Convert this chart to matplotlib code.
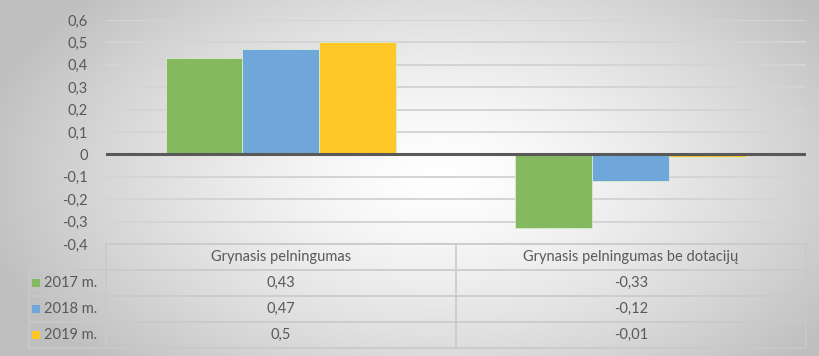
import numpy as np
import matplotlib
matplotlib.use("Agg")
import matplotlib.pyplot as plt
from matplotlib.patches import Rectangle

categories = ["Grynasis pelningumas", "Grynasis pelningumas be dotacijų"]
series_names = ["2017 m.", "2018 m.", "2019 m."]
v2017 = [0.43, -0.33]
v2018 = [0.47, -0.12]
v2019 = [0.5, -0.01]
series_values = [v2017, v2018, v2019]
series_labels = [["0,43", "-0,33"], ["0,47", "-0,12"], ["0,5", "-0,01"]]
yticks = [0.6, 0.5, 0.4, 0.3, 0.2, 0.1, 0, -0.1, -0.2, -0.3, -0.4]
colors = ["#84b95f", "#6fa7da", "#ffc727"]
txt = "#595959"

W, H = 820, 356
plt.rcParams['font.family'] = ['Lato', 'DejaVu Sans']
fig = plt.figure(figsize=(W / 100, H / 100), dpi=100)

# background radial gradient
bg = fig.add_axes([0, 0, 1, 1])
yy, xx = np.mgrid[0:H, 0:W]
r = np.sqrt(((xx - 440) / 470.0) ** 2 + ((yy - 175) / 270.0) ** 2)
r = np.clip(r, 0, 1) ** 1.4
g = 1.0 - (1.0 - 0.75) * r
bg.imshow(np.dstack([g, g, g]), extent=[0, W, H, 0], aspect='auto', interpolation='bilinear')
bg.set_xlim(0, W); bg.set_ylim(H, 0)
bg.axis('off')

def fx(px): return px / W
def fy(py): return 1 - py / H

# main axes
x0, x1 = 106, 806
ytop, ybot = 20, 244
ax = fig.add_axes([fx(x0), fy(ybot), (x1 - x0) / W, (ybot - ytop) / H])
ax.patch.set_alpha(0)
ax.set_xlim(0, 2)
ax.set_ylim(-0.4, 0.6)
ax.set_yticks(yticks)
ax.set_yticklabels([("%.1f" % t).replace(".", ",") if t != 0 else "0" for t in yticks],
                   color=txt, fontsize=10.5)
ax.tick_params(axis='y', length=0, pad=13)
ax.set_xticks([])
for s in ax.spines.values():
    s.set_visible(False)
for t in yticks:
    if t != 0:
        ax.axhline(t, color="#d4d4d4", lw=1.4, zorder=0)
bw = 0.22
for i, (vals, c) in enumerate(zip(series_values, colors)):
    xs = np.arange(len(categories)) + 0.5 + (i - 1) * bw
    ax.bar(xs, vals, width=bw, color=c, edgecolor="#d9ecd0", linewidth=0.6, zorder=2)
ax.axhline(0, color="#595959", lw=2.2, zorder=3)

# data table
tab = fig.add_axes([0, 0, 1, 1])
tab.set_xlim(0, W); tab.set_ylim(H, 0)
tab.axis('off')
lc = "#c9c9c9"
col_edges = [29, 106, 456, 806]
row_edges = [244, 270, 296, 322, 348]
# horizontal lines
tab.plot([106, 806], [row_edges[0]] * 2, color=lc, lw=1.2)
for ry in row_edges[1:]:
    tab.plot([29, 806], [ry] * 2, color=lc, lw=1.2)
# vertical lines
tab.plot([29, 29], [row_edges[1], row_edges[-1]], color=lc, lw=1.2)
for cx in col_edges[1:]:
    tab.plot([cx, cx], [row_edges[0], row_edges[-1]], color=lc, lw=1.2)
for j, cat in enumerate(categories):
    cxm = (col_edges[j + 1] + col_edges[j + 2]) / 2
    tab.text(cxm, (row_edges[0] + row_edges[1]) / 2, cat, ha='center', va='center',
             color=txt, fontsize=10.5)
for i, name in enumerate(series_names):
    ymid = (row_edges[i + 1] + row_edges[i + 2]) / 2
    tab.add_patch(Rectangle((32, ymid - 4), 8, 8, facecolor=colors[i], edgecolor='none'))
    tab.text(44, ymid, name, ha='left', va='center', color=txt, fontsize=10.5)
    for j in range(len(categories)):
        cxm = (col_edges[j + 1] + col_edges[j + 2]) / 2
        tab.text(cxm, ymid, series_labels[i][j], ha='center', va='center',
                 color=txt, fontsize=10.5)

fig.savefig("out.png", dpi=100)
